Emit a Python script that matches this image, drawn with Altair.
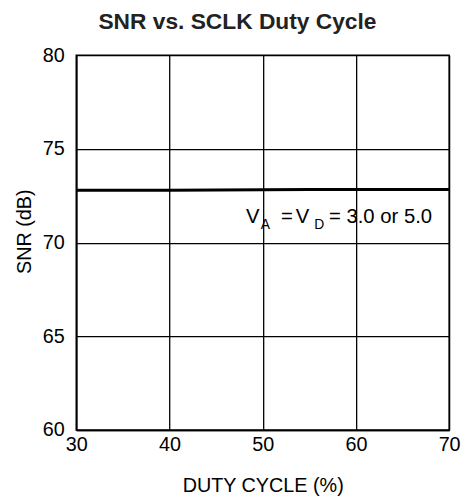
import altair as alt
import pandas as pd

duty = [30, 35, 40, 45, 50, 55, 60, 65, 70]
snr = [72.80, 72.80, 72.80, 72.81, 72.82, 72.83, 72.83, 72.83, 72.83]

ann_x = [48.2]
ann_y = [71.07]

df = pd.DataFrame({"duty": duty, "snr": snr})
ann = pd.DataFrame({"x": ann_x, "y": ann_y})

FONT = "Liberation Sans"

xs = alt.Scale(domain=[30, 70], nice=False, zero=False)
ys = alt.Scale(domain=[60, 80], nice=False, zero=False)

line = alt.Chart(df).mark_line(color="black", strokeWidth=3).encode(
    x=alt.X("duty:Q", scale=xs, title="DUTY CYCLE (%)",
            axis=alt.Axis(values=[30, 40, 50, 60, 70], format="d")),
    y=alt.Y("snr:Q", scale=ys, title="SNR (dB)",
            axis=alt.Axis(values=[60, 65, 70, 75, 80], format="d", titleY=178)),
)

def piece(txt, dx, dy, size):
    return alt.Chart(ann).mark_text(
        text=txt, align="left", baseline="alphabetic", dx=dx, dy=dy,
        fontSize=size, font=FONT, color="black"
    ).encode(x=alt.X("x:Q", scale=xs), y=alt.Y("y:Q", scale=ys))

texts = [
    piece("V", 0, 0, 20.5),
    piece("A", 15, 7, 14),
    piece("=", 35.5, 0, 20.5),
    piece("V", 50.5, 0, 20.5),
    piece("D", 69, 7, 14),
    piece("= 3.0 or 5.0", 84, 0, 20.5),
]

chart = alt.layer(line, *texts).properties(
    width=377, height=379,
    title=alt.TitleParams("SNR vs. SCLK Duty Cycle", fontSize=23, font=FONT,
                          fontWeight="bold", color="#222222", anchor="middle",
                          frame="bounds", offset=11),
    autosize=alt.AutoSizeParams(type="none"),
    padding={"left": 69, "top": 45, "right": 12, "bottom": 68},
).configure_view(
    stroke="black", strokeWidth=1.5
).configure_axis(
    grid=True, gridColor="black", gridWidth=1.3, gridOpacity=1,
    domain=True, domainColor="black", domainWidth=1.5,
    ticks=False, tickSize=0, labelFlush=False, labelOverlap=False,
    labelFont=FONT, labelFontSize=20, labelColor="black",
    titleFont=FONT, titleFontSize=20, titleFontWeight="normal", titleColor="black",
).configure_axisX(
    labelPadding=5, titlePadding=21,
).configure_axisY(
    labelPadding=12, titlePadding=8,
)

chart.save("out.html", embed_options={"renderer": "svg", "actions": False})
